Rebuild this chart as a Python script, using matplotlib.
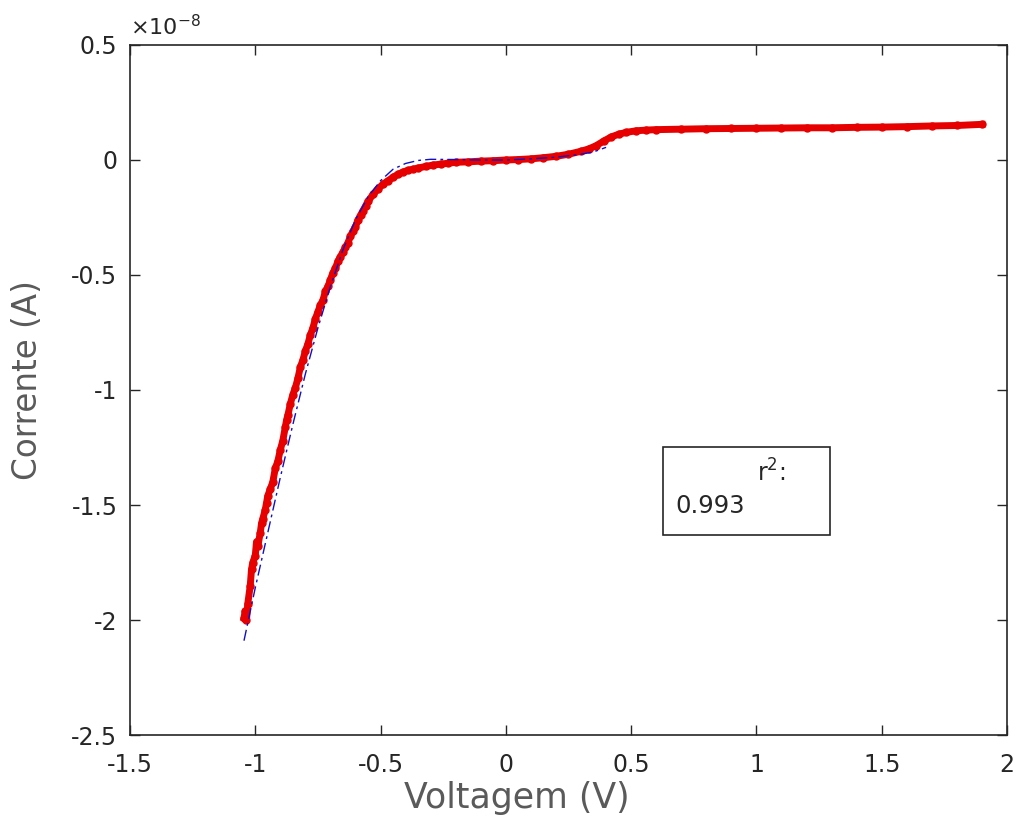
import matplotlib
matplotlib.use("Agg")
from matplotlib import pyplot as plt
from matplotlib.patches import Rectangle
from matplotlib.ticker import FuncFormatter

plt.rcParams['font.family'] = ['DejaVu Sans']
plt.rcParams['axes.unicode_minus'] = False

# Measured I-V data, current in units of 1e-8 A
volt = [-1.045, -1.040, -1.035, -1.030, -1.020, -1.015, -1.010, -1.000, -0.995, -0.990,
        -0.980, -0.975, -0.970, -0.960, -0.955, -0.950, -0.940, -0.930, -0.920, -0.910,
        -0.900, -0.890, -0.880, -0.875, -0.870, -0.860, -0.850, -0.840, -0.830, -0.820,
        -0.810, -0.800, -0.790, -0.780, -0.770, -0.760, -0.750, -0.740, -0.730, -0.720,
        -0.710, -0.700, -0.690, -0.680, -0.670, -0.660, -0.650, -0.640, -0.630, -0.620,
        -0.610, -0.600, -0.590, -0.580, -0.570, -0.560, -0.550, -0.530, -0.510, -0.490,
        -0.470, -0.450, -0.430, -0.410, -0.390, -0.370, -0.350, -0.320, -0.290, -0.260,
        -0.230, -0.200, -0.150, -0.100, -0.050, 0.000, 0.050, 0.100, 0.150, 0.200,
        0.250, 0.300, 0.330, 0.360, 0.390, 0.420, 0.450, 0.480, 0.520, 0.560,
        0.600, 0.700, 0.800, 0.900, 1.000, 1.100, 1.200, 1.300, 1.400, 1.500,
        1.600, 1.700, 1.800, 1.900]
corrente = [-1.99, -1.96, -2.00, -1.93, -1.85, -1.78, -1.75, -1.72, -1.66, -1.68,
            -1.62, -1.58, -1.56, -1.52, -1.49, -1.46, -1.43, -1.40, -1.34, -1.31,
            -1.26, -1.22, -1.16, -1.13, -1.11, -1.06, -1.02, -0.99, -0.95, -0.90,
            -0.87, -0.83, -0.80, -0.76, -0.73, -0.69, -0.66, -0.63, -0.61, -0.57,
            -0.55, -0.52, -0.49, -0.47, -0.44, -0.42, -0.40, -0.38, -0.36, -0.33,
            -0.31, -0.29, -0.26, -0.24, -0.22, -0.20, -0.18, -0.15, -0.125, -0.105,
            -0.090, -0.075, -0.062, -0.052, -0.045, -0.040, -0.035, -0.028, -0.022, -0.018,
            -0.014, -0.010, -0.008, -0.005, -0.003, 0.000, 0.002, 0.005, 0.010, 0.016,
            0.025, 0.038, 0.048, 0.062, 0.082, 0.100, 0.112, 0.120, 0.127, 0.130,
            0.132, 0.134, 0.136, 0.137, 0.138, 0.139, 0.140, 0.140, 0.142, 0.143,
            0.145, 0.148, 0.150, 0.155]

# Fitted curve
fit_volt = [-1.045, -1.00, -0.95, -0.90, -0.85, -0.80, -0.75, -0.70, -0.65, -0.60,
            -0.55, -0.50, -0.45, -0.40, -0.35, -0.30, -0.20, -0.10, 0.00, 0.10,
            0.20, 0.30, 0.35, 0.40]
fit_corrente = [-2.09, -1.86, -1.62, -1.38, -1.15, -0.93, -0.73, -0.55, -0.39, -0.26,
                -0.16, -0.09, -0.04, -0.015, -0.002, 0.003, 0.002, 0.000, 0.000, 0.005,
                0.012, 0.025, 0.035, 0.055]

r2_text = "0.993"

TXT = '#262626'
LBL = '#5a5a5a'

fig = plt.figure(figsize=(10.21, 8.24), dpi=100)
ax = fig.add_axes([0.1273, 0.108, 0.859, 0.8374])

ax.plot(volt, corrente, color='#e60000', linestyle='-', linewidth=5,
        marker='o', markersize=5, zorder=2)
ax.plot(fit_volt, fit_corrente, color='#1010c8', linestyle=(0, (8, 3, 2, 3)),
        linewidth=1.0, zorder=3)

ax.set_xlim(-1.5, 2)
ax.set_ylim(-2.5, 0.5)
ax.set_xticks([-1.5, -1, -0.5, 0, 0.5, 1, 1.5, 2])
ax.set_yticks([-2.5, -2, -1.5, -1, -0.5, 0, 0.5])
fmt = FuncFormatter(lambda v, p: '{:g}'.format(v))
ax.xaxis.set_major_formatter(fmt)
ax.yaxis.set_major_formatter(fmt)
ax.tick_params(direction='in', top=True, right=True, length=7, width=1,
               labelsize=17, colors=TXT)
ax.tick_params(axis='x', pad=13)
ax.tick_params(axis='y', pad=9)
for s in ax.spines.values():
    s.set_color(TXT)
    s.set_linewidth(1.2)

ax.text(0.0, 1.008, r'$\times10^{\mathrm{-8}}$', transform=ax.transAxes,
        fontsize=16, color=TXT, va='bottom', ha='left')

ax.set_xlabel('Voltagem (V)', fontsize=25, color=LBL)
ax.xaxis.set_label_coords(0.441, -0.066)
ax.set_ylabel('Corrente (A)', fontsize=23.5, color=LBL)
ax.yaxis.set_label_coords(-0.098, 0.515)

# r^2 annotation box
ax.add_patch(Rectangle((0.627, -1.63), 0.666, 0.382, fill=False,
                       edgecolor=TXT, linewidth=1.2, zorder=4))
ax.text(1.06, -1.36, r'r$^{2}$:', fontsize=17, color=TXT, ha='center', va='center')
ax.text(0.675, -1.505, r2_text, fontsize=17.5, color=TXT, ha='left', va='center')

fig.savefig('out.png', dpi=100)
